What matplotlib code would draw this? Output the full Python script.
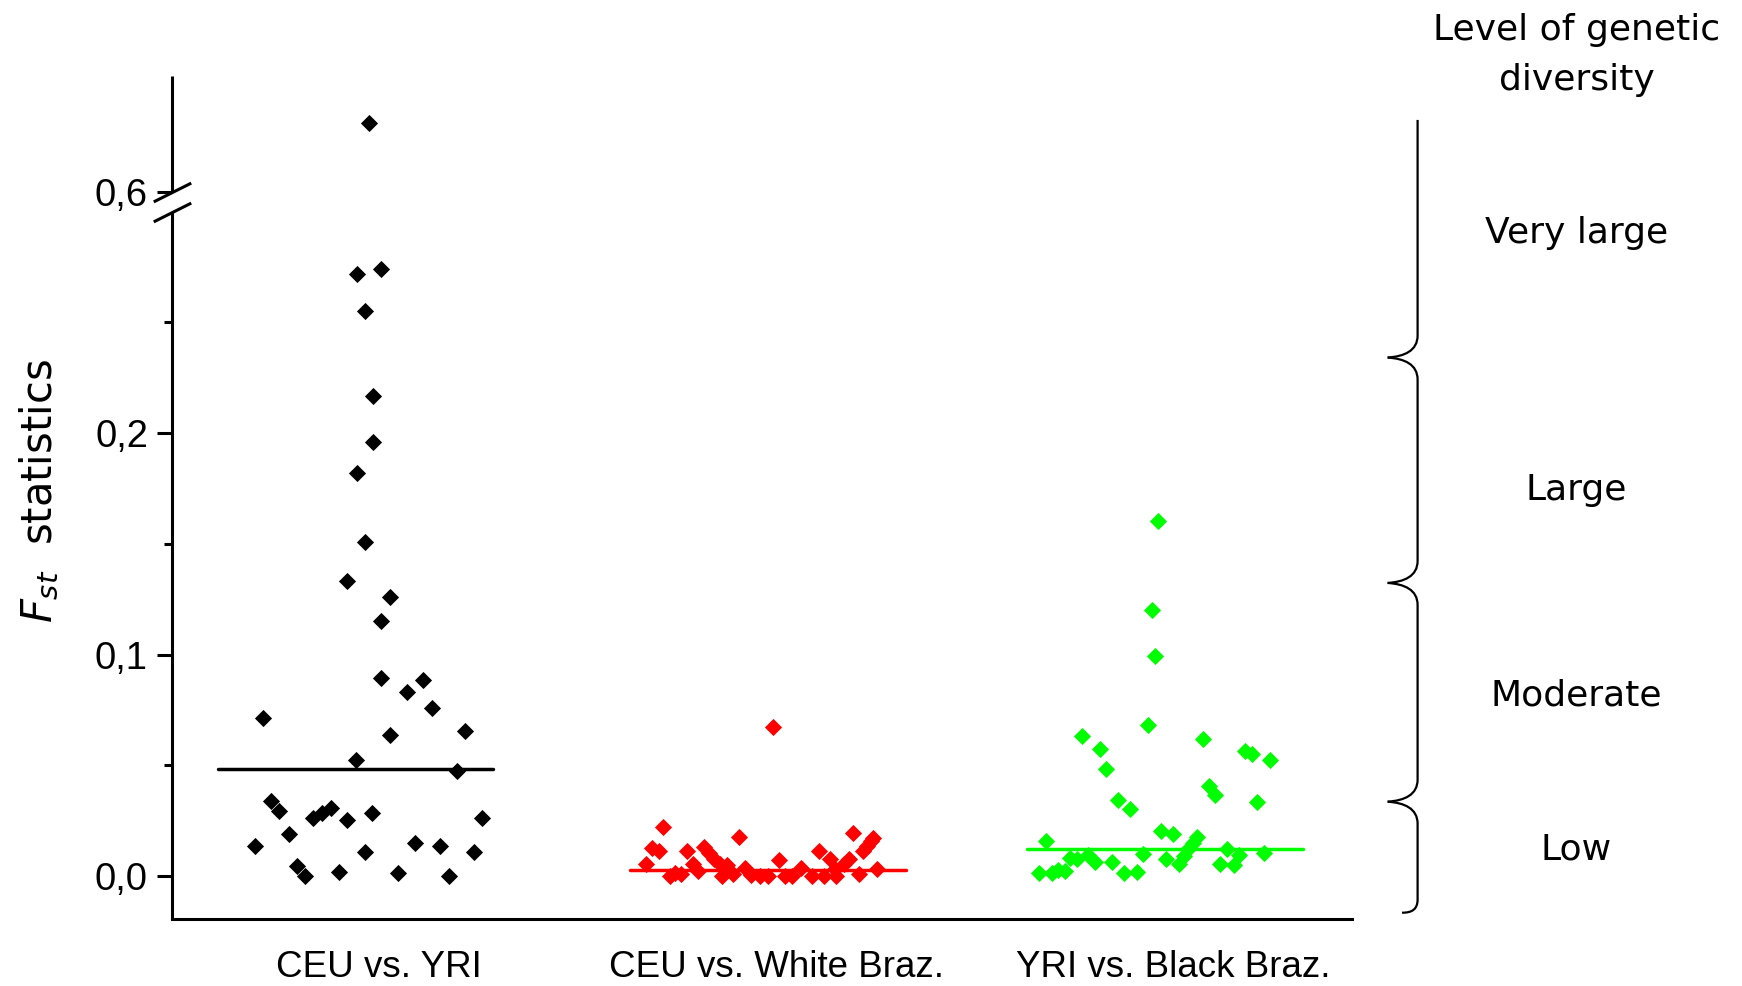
import numpy as np
import matplotlib
matplotlib.use('Agg')
import matplotlib.pyplot as plt
from matplotlib.path import Path
from matplotlib.patches import PathPatch
from matplotlib.transforms import Affine2D, blended_transform_factory

# ---------------- data ----------------
categories = ['CEU vs. YRI', 'CEU vs. White Braz.', 'YRI vs. Black Braz.']

ceu_yri_x = [0.975, 0.944, 1.006, 0.964, 0.985, 0.985, 0.944, 0.964, 0.921, 1.029,
             1.005, 1.005, 1.112, 1.070, 1.134, 0.709, 1.028, 1.218, 0.943, 1.197,
             0.728, 0.749, 0.835, 0.857, 0.879, 0.921, 0.984, 1.260, 0.773, 0.689,
             1.091, 1.154, 0.964, 1.239, 0.794, 0.815, 0.900, 1.049, 1.176]
ceu_yri_y = [0.631, 0.272, 0.274, 0.255, 0.2165, 0.196, 0.182, 0.151, 0.133, 0.126,
             0.115, 0.0895, 0.0884, 0.0832, 0.0759, 0.0713, 0.0636, 0.0654, 0.0526, 0.0474,
             0.0341, 0.0293, 0.0260, 0.0286, 0.0308, 0.0253, 0.0286, 0.0260, 0.0192, 0.0135,
             0.0150, 0.0134, 0.0108, 0.0110, 0.0045, 0.0, 0.0020, 0.0015, 0.0]

ceu_wb_x = [1.992, 1.716, 1.687, 1.705, 1.672, 1.777, 1.907, 1.819, 1.832, 1.844,
            1.859, 1.790, 1.803, 1.733, 1.745, 1.762, 1.863, 1.877, 1.892, 1.922,
            1.938, 1.959, 1.980, 2.008, 2.022, 2.039, 2.064, 2.090, 2.109, 2.121,
            2.136, 2.148, 2.152, 2.171, 2.184, 2.194, 2.220, 2.229, 2.238, 2.245,
            2.209, 2.253]
ceu_wb_y = [0.0672, 0.0221, 0.0126, 0.0111, 0.0054, 0.0113, 0.0176, 0.0131, 0.0105, 0.0078,
            0.0053, 0.0053, 0.0023, 0.0, 0.0015, 0.0008, 0.0, 0.0050, 0.0008, 0.0038,
            0.0003, 0.0, 0.0, 0.0071, 0.0, 0.0, 0.0038, 0.0, 0.0111, 0.0,
            0.0075, 0.0030, 0.0, 0.0053, 0.0075, 0.0195, 0.0113, 0.0135, 0.0158, 0.0173,
            0.0008, 0.0033]

yri_bb_x = [2.961, 2.946, 2.954, 2.937, 2.770, 3.074, 2.815, 3.180, 3.199, 3.243,
            2.832, 3.089, 3.105, 2.862, 3.211, 2.892, 2.969, 3.000, 3.061, 3.049,
            3.038, 3.027, 3.015, 2.679, 2.663, 2.694, 2.709, 2.728, 2.739, 2.757,
            2.786, 2.803, 2.846, 2.877, 2.908, 2.923, 2.983, 3.136, 3.119, 3.153,
            3.166, 3.228]
yri_bb_y = [0.1602, 0.1203, 0.0992, 0.0684, 0.0632, 0.0621, 0.0574, 0.0564, 0.0553, 0.0523,
            0.0484, 0.0406, 0.0365, 0.0343, 0.0334, 0.0301, 0.0203, 0.0192, 0.0177, 0.0150,
            0.0120, 0.0090, 0.0053, 0.0158, 0.0012, 0.0012, 0.0027, 0.0023, 0.0083, 0.0075,
            0.0093, 0.0063, 0.0063, 0.0015, 0.0018, 0.0098, 0.0075, 0.0120, 0.0053, 0.0048,
            0.0093, 0.0105]

group_means = [0.0484, 0.0027, 0.0123]

y_major_ticks = [0.0, 0.1, 0.2, 0.6]
y_major_labels = ['0,0', '0,1', '0,2', '0,6']
y_minor_ticks = [0.05, 0.15, 0.25]

levels = ['Very large', 'Large', 'Moderate', 'Low']
level_title = ['Level of genetic', 'diversity']

# ---------------- style / layout ----------------
colors = ['#000000', '#ff0000', '#00ff00']
mean_line_centers = [0.941, 1.980, 2.980]
mean_half_width = 0.347

W, H = 1742, 986
fig = plt.figure(figsize=(W / 100, H / 100), dpi=100)
ax = fig.add_axes([155 / 1568, 1 - 828 / 888, (1217 - 155) / 1568, (828 - 68) / 888])

# broken y scale: compress 0.3 .. 0.6
BRK_LO, BRK_HI = 0.3, 0.6
K = 0.0088 / 0.3
T_HI = BRK_LO + (BRK_HI - BRK_LO) * K


def fwd(v):
    v = np.asarray(v, dtype=float)
    return np.where(v <= BRK_LO, v,
                    np.where(v <= BRK_HI, BRK_LO + (v - BRK_LO) * K, T_HI + (v - BRK_HI)))


def inv(t):
    t = np.asarray(t, dtype=float)
    return np.where(t <= BRK_LO, t,
                    np.where(t <= T_HI, BRK_LO + (t - BRK_LO) / K, BRK_HI + (t - T_HI)))


ax.set_yscale('function', functions=(fwd, inv))
YMIN, YMAX = -0.01955, 0.6526
ax.set_ylim(YMIN, YMAX)
ax.set_xlim(0.4797, 3.4503)

series = [(ceu_yri_x, ceu_yri_y), (ceu_wb_x, ceu_wb_y), (yri_bb_x, yri_bb_y)]
for (xs, ys), c, m, xc in zip(series, colors, group_means, mean_line_centers):
    ax.plot(xs, ys, ls='none', marker='D', ms=8.0, mew=0.6, mfc=c, mec=c, zorder=3)
    ax.plot([xc - mean_half_width, xc + mean_half_width], [m, m], color=c, lw=2.5,
            solid_capstyle='round', zorder=4)

# spines
for s in ['top', 'right', 'left']:
    ax.spines[s].set_visible(False)
ax.spines['bottom'].set_linewidth(2.2)

btrans = blended_transform_factory(ax.transAxes, ax.transData)
ax.plot([0, 0], [YMIN, BRK_LO], color='k', lw=2.2, transform=btrans, clip_on=False,
        solid_capstyle='butt')
ax.plot([0, 0], [BRK_HI, YMAX], color='k', lw=2.2, transform=btrans, clip_on=False,
        solid_capstyle='butt')
slash = Path([[-1, -0.5], [1, 0.5]], [Path.MOVETO, Path.LINETO])
ax.plot([0, 0], [BRK_LO, BRK_HI], ls='none', marker=slash, ms=27, mew=2.2, color='k',
        transform=btrans, clip_on=False)

# ticks
ax.set_yticks(y_major_ticks)
ax.set_yticklabels(y_major_labels)
ax.set_yticks(y_minor_ticks, minor=True)
ax.tick_params(axis='y', which='major', length=10.5, width=2.2, direction='out', pad=7,
               labelsize=27.5)
ax.tick_params(axis='y', which='minor', length=6, width=2.2, direction='out')
for lab in ax.get_yticklabels():
    lab.set_fontfamily(['Liberation Sans', 'DejaVu Sans'])

ax.set_xticks([1, 2, 3])
ax.set_xticklabels(categories)
ax.tick_params(axis='x', length=0, pad=22, labelsize=26.5)
for lab in ax.get_xticklabels():
    lab.set_fontfamily(['Liberation Sans Narrow', 'Liberation Sans', 'DejaVu Sans'])

# y label
fig.text(36 / 1568, 1 - 442 / 888, r'$F_{st}$  statistics', rotation=90, ha='center',
         va='center', fontsize=30, family='DejaVu Sans')

# right side annotation
fs = 26
fig.text(1419 / 1568, 1 - 27 / 888, level_title[0], ha='center', va='center', fontsize=fs)
fig.text(1419 / 1568, 1 - 72 / 888, level_title[1], ha='center', va='center', fontsize=fs)
level_y = [210, 441, 626, 765]
for txt, yy in zip(levels, level_y):
    fig.text(1419 / 1568, 1 - yy / 888, txt, ha='center', va='center', fontsize=fs)

# braces (in reference pixel coordinates)
T = Affine2D().scale(1 / 1568, -1 / 888).translate(0, 1) + fig.transFigure
xl, xt = 1276, 1249
bounds = [108, 322, 525, 722, 822]
for i in range(4):
    ya, yb = bounds[i], bounds[i + 1]
    verts, codes = [], []
    if i == 0:
        verts += [(xl, ya)]
        codes += [Path.MOVETO]
    else:
        verts += [(xt, ya), (xl - 12, ya + 1), (xl, ya + 6), (xl, ya + 20)]
        codes += [Path.MOVETO, Path.CURVE4, Path.CURVE4, Path.CURVE4]
    if i == 3:
        verts += [(xl, yb - 12), (xl, yb - 3), (xl - 5, yb), (1262, yb)]
        codes += [Path.LINETO, Path.CURVE4, Path.CURVE4, Path.CURVE4]
    else:
        verts += [(xl, yb - 20), (xl, yb - 6), (xl - 12, yb - 1), (xt, yb)]
        codes += [Path.LINETO, Path.CURVE4, Path.CURVE4, Path.CURVE4]
    fig.add_artist(PathPatch(Path(verts, codes), transform=T, fill=False, lw=1.6,
                             edgecolor='k'))

fig.savefig('out.png', dpi=100)
